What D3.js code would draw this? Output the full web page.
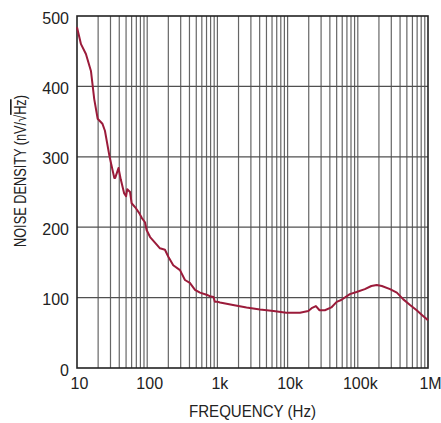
<!DOCTYPE html>
<html>
<head>
<meta charset="utf-8">
<script src="https://cdn.jsdelivr.net/npm/d3@7"></script>
<style>
  body { margin: 0; background: #fff; }
  text { font-family: Arial, "Liberation Sans", sans-serif; fill: #222; }
</style>
</head>
<body>
<svg id="chart"></svg>
<script>
"use strict";

// frequency (Hz) and noise density (nV/rtHz)
var freqHz = [10, 11.4, 13.4, 15.8, 17.6, 19.7, 23, 25, 29, 34, 35, 39, 42, 47, 50, 52, 57, 60,
  69, 77, 84, 93, 98, 110, 129, 152, 179, 200, 235, 293, 345, 405, 480, 565, 700, 780, 880, 920,
  1020, 1090, 1670, 2600, 4040, 6300, 9600, 15000, 19700, 22000, 25300, 28500, 34000, 42000,
  50000, 58000, 77000, 96000, 126000, 156000, 186000, 220000, 288000, 360000, 445000, 555000,
  690000, 850000, 1000000];
var noiseDensity = [484, 460, 446, 422, 382, 354, 347, 337, 301, 270, 270, 284, 268, 248, 244, 254, 250, 234,
  227, 220, 213, 207, 196, 186, 178, 170, 168, 158, 146, 139, 125, 121, 111, 107, 104, 102, 101, 94,
  94, 93, 89.5, 86, 83, 81, 78.5, 78.5, 81, 85, 88, 82, 82, 86,
  94, 96.6, 105, 108, 112, 116.5, 118, 116.5, 112, 107, 97.5, 89.5,
  82, 74, 68];

var xTickValues = [10, 100, 1e3, 1e4, 1e5, 1e6];
var xTickLabels = ["10", "100", "1k", "10k", "100k", "1M"];
var yTickValues = [0, 100, 200, 300, 400, 500];

var config = {
  width: 441,
  height: 423,
  plot: {x: 77, y: 16, width: 351, height: 352},
  lineColor: "#9b1b3a",
  gridColor: "#666"
};

var svg = d3.select("#chart")
  .attr("width", config.width)
  .attr("height", config.height);

var xScale = d3.scaleLog()
  .domain([10, 1e6])
  .range([config.plot.x, config.plot.x + config.plot.width]);

var yScale = d3.scaleLinear()
  .domain([0, 500])
  .range([config.plot.y + config.plot.height, config.plot.y]);

// vertical grid: every 1..9 per decade
var minorTicks = [];
for (var dec = 10; dec < 1e6; dec *= 10) {
  for (var m = 2; m <= 9; m++) minorTicks.push(dec * m);
}

var grid = svg.append("g").attr("class", "grid");

grid.selectAll("line.vx")
  .data(minorTicks.concat(xTickValues.slice(1, -1)))
  .enter().append("line")
  .attr("class", "vx")
  .attr("x1", function(d) { return xScale(d); })
  .attr("x2", function(d) { return xScale(d); })
  .attr("y1", yScale(0))
  .attr("y2", yScale(500))
  .attr("stroke", config.gridColor)
  .attr("stroke-width", 1.2);

grid.selectAll("line.hy")
  .data(yTickValues.slice(1, -1))
  .enter().append("line")
  .attr("class", "hy")
  .attr("x1", xScale(10))
  .attr("x2", xScale(1e6))
  .attr("y1", function(d) { return yScale(d); })
  .attr("y2", function(d) { return yScale(d); })
  .attr("stroke", "#505050")
  .attr("stroke-width", 1.2);

// frame
svg.append("rect")
  .attr("x", config.plot.x)
  .attr("y", config.plot.y)
  .attr("width", config.plot.width)
  .attr("height", config.plot.height)
  .attr("fill", "none")
  .attr("stroke", "#222")
  .attr("stroke-width", 1.6);

// data curve
var data = freqHz.map(function(f, i) { return {f: f, v: noiseDensity[i]}; });

var line = d3.line()
  .x(function(d) { return xScale(d.f); })
  .y(function(d) { return yScale(d.v); });

svg.append("path")
  .datum(data)
  .attr("d", line)
  .attr("fill", "none")
  .attr("stroke", config.lineColor)
  .attr("stroke-width", 2)
  .attr("stroke-linejoin", "round");

// axes
var xAxis = d3.axisBottom(xScale)
  .tickValues(xTickValues)
  .tickFormat(function(d, i) { return xTickLabels[i]; })
  .tickSize(0)
  .tickPadding(10);

var xg = svg.append("g")
  .attr("transform", "translate(2," + yScale(0) + ")")
  .call(xAxis);
xg.select(".domain").remove();
xg.selectAll("text").style("font-size", "16px").style("fill", "#222");

var yAxis = d3.axisLeft(yScale)
  .tickValues(yTickValues)
  .tickSize(0)
  .tickPadding(8);

var yg = svg.append("g")
  .attr("transform", "translate(" + config.plot.x + ",2)")
  .call(yAxis);
yg.select(".domain").remove();
yg.selectAll("text").style("font-size", "16px").style("fill", "#222");

// axis titles (condensed to match the original narrow face)
svg.append("text")
  .attr("x", config.plot.x + config.plot.width / 2)
  .attr("y", 417)
  .attr("text-anchor", "middle")
  .attr("textLength", 127)
  .attr("lengthAdjust", "spacingAndGlyphs")
  .style("font-size", "16.5px")
  .text("FREQUENCY (Hz)");

var yTitle = svg.append("text")
  .attr("transform", "translate(26,171) rotate(-90)")
  .attr("text-anchor", "middle")
  .attr("textLength", 152)
  .attr("lengthAdjust", "spacingAndGlyphs")
  .style("font-size", "16.5px");
yTitle.append("tspan").text("NOISE DENSITY (nV/√");
yTitle.append("tspan").attr("text-decoration", "overline").text("Hz");
yTitle.append("tspan").text(")");
</script>
</body>
</html>
